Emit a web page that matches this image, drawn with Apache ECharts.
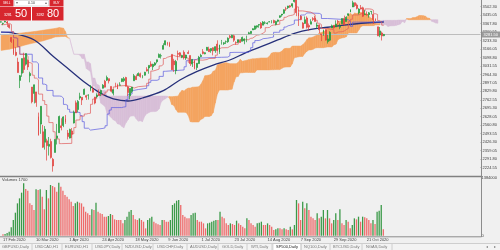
<!DOCTYPE html>
<html><head><meta charset="utf-8">
<script src="https://cdn.jsdelivr.net/npm/echarts@6/dist/echarts.min.js"></script>
<style>html,body{margin:0;padding:0;background:#f0f0f0}#c{width:500px;height:250px}</style>
</head><body><div id="c"></div><script>
// ---- trading days (CFD, incl. some US holiday bars) ----
const monthDays = [
 ['Feb',[17,18,19,20,21,24,25,26,27,28]],
 ['Mar',[2,3,4,5,6,9,10,11,12,13,16,17,18,19,20,23,24,25,26,27,30,31]],
 ['Apr',[1,2,3,6,7,8,9,13,14,15,16,17,20,21,22,23,24,27,28,29,30]],
 ['May',[1,4,5,6,7,8,11,12,13,14,15,18,19,20,21,22,25,26,27,28,29]],
 ['Jun',[1,2,3,4,5,8,9,10,11,12,15,16,17,18,19,22,23,24,25,26,29,30]],
 ['Jul',[1,2,3,6,7,8,9,10,13,14,15,16,17,20,21,22,23,24,27,28,29,30,31]],
 ['Aug',[3,4,5,6,7,10,11,12,13,14,17,18,19,20,21,24,25,26,27,28,31]],
 ['Sep',[1,2,3,4,7,8,9,10,11,14,15,16,17,18,21,22,23,24,25,28,29,30]],
 ['Oct',[1,2,5,6,7,8,9,12,13,14,15,16,19,20,21,22,23,26,27,28,29,30]],
 ['Nov',[2]]
];
const futureSlots = 46;
const tickIdx  = [0,16,32,48,64,80,96,112,128,144,160,176];
const tickText = ['17 Feb 2020','10 Mar 2020','1 Apr 2020','24 Apr 2020','18 May 2020','9 Jun 2020','1 Jul 2020','23 Jul 2020','14 Aug 2020','7 Sep 2020','29 Sep 2020','21 Oct 2020'];

// ---- SP500 daily candles [open, high, low, close] ----
const candles = [
[3380,3386,3376,3382],[3369.0,3375.0,3355.6,3370.3],[3380.4,3393.5,3378.8,3386.2],[3380.4,3389.2,3341.0,3373.2],[3360.5,3360.8,3328.5,3337.8],
[3257.6,3259.8,3214.7,3225.9],[3238.9,3246.9,3118.8,3128.2],[3139.9,3182.5,3108.9,3116.4],[3062.5,3097.1,2977.4,2978.8],[2916.9,2959.7,2855.8,2954.2],
[2974.3,3090.9,2945.2,3090.2],[3096.5,3136.7,2976.6,3003.4],[3045.8,3130.9,3034.4,3130.1],[3075.7,3083.0,2999.8,3023.9],[2954.2,2985.9,2901.5,2972.4],
[2863.9,2863.9,2734.4,2746.6],[2813.5,2882.6,2734.0,2882.2],[2825.6,2825.6,2707.2,2741.4],[2630.9,2660.9,2478.9,2480.6],[2569.9,2711.3,2492.4,2711.0],
[2508.6,2563.0,2380.9,2386.1],[2425.7,2553.9,2367.0,2529.2],[2436.5,2453.6,2280.5,2398.1],[2393.5,2467.0,2319.8,2409.4],[2431.9,2453.0,2295.6,2304.9],
[2290.7,2300.7,2191.9,2237.4],[2344.4,2449.7,2344.4,2447.3],[2457.8,2571.4,2407.5,2475.6],[2501.3,2637.0,2500.7,2630.1],[2555.9,2615.9,2520.0,2541.5],
[2559.0,2631.8,2545.3,2626.7],[2614.7,2641.4,2571.2,2584.6],[2498.1,2522.8,2447.5,2470.5],[2458.5,2533.2,2455.8,2526.9],[2514.9,2538.2,2460.0,2488.7],
[2578.3,2676.9,2574.6,2663.7],[2738.7,2756.9,2657.7,2659.4],[2685.0,2760.8,2663.3,2750.0],[2777.0,2818.6,2762.4,2789.8],[2782.5,2782.5,2721.2,2761.6],
[2805.1,2851.9,2805.1,2846.1],[2795.6,2801.9,2761.5,2783.4],[2799.3,2806.5,2764.3,2799.6],[2842.4,2879.2,2830.9,2874.6],[2845.6,2869.0,2820.4,2823.2],
[2784.8,2785.5,2727.1,2736.6],[2787.9,2815.1,2775.9,2799.3],[2810.4,2844.9,2794.3,2797.8],[2812.6,2842.7,2791.8,2836.7],[2854.7,2887.7,2852.9,2878.5],
[2910.0,2921.2,2860.7,2863.4],[2918.5,2954.9,2912.2,2939.5],[2930.9,2930.9,2892.5,2912.4],[2869.1,2869.1,2821.6,2830.7],[2815.0,2844.2,2797.9,2842.7],
[2868.9,2898.2,2863.6,2868.4],[2883.1,2891.1,2847.7,2848.4],[2878.3,2901.9,2876.5,2881.2],[2908.8,2932.2,2902.9,2929.8],[2915.5,2944.3,2903.4,2930.3],
[2939.5,2945.8,2869.6,2870.1],[2865.9,2874.1,2793.2,2820.0],[2794.5,2852.8,2766.6,2852.5],[2829.9,2865.0,2816.8,2863.7],[2913.9,2968.1,2913.9,2953.9],
[2948.6,2964.2,2922.4,2922.9],[2953.6,2980.3,2953.6,2971.6],[2969.9,2978.5,2938.6,2948.5],[2948.0,2956.8,2933.6,2955.5],[2958,2985,2955,2982],
[3004.1,3021.7,2988.2,2991.8],[3015.7,3036.3,2969.8,3036.1],[3046.6,3068.7,3023.4,3029.7],[3025.2,3049.2,2998.6,3044.3],[3038.8,3062.2,3031.5,3055.7],
[3064.8,3081.1,3051.6,3080.8],[3098.9,3130.9,3098.9,3122.9],[3111.6,3128.9,3090.4,3112.4],[3163.8,3211.7,3163.8,3193.9],[3199.9,3233.1,3196.0,3232.4],
[3213.3,3222.7,3193.1,3207.2],[3213.4,3223.3,3181.5,3190.1],[3123.5,3123.5,2999.5,3002.1],[3071.0,3088.4,2984.5,3041.3],[2993.8,3079.8,2965.7,3066.6],
[3131.0,3153.5,3076.1,3124.7],[3136.1,3141.2,3108.0,3113.5],[3101.6,3120.0,3093.5,3115.3],[3140.3,3155.5,3083.1,3097.7],[3094.4,3120.9,3079.4,3117.9],
[3138.7,3154.9,3127.1,3131.3],[3114.4,3115.0,3032.1,3050.3],[3046.6,3086.3,3024.0,3083.8],[3073.2,3073.7,3004.6,3009.1],[3018.6,3053.9,2999.7,3053.2],
[3050.2,3111.5,3047.8,3100.3],[3105.9,3128.4,3101.0,3115.9],[3143.6,3165.8,3124.5,3130.0],[3128,3140,3124,3137],[3155.3,3182.6,3155.3,3179.7],
[3166.4,3184.2,3142.9,3145.3],[3153.1,3171.8,3136.5,3169.9],[3176.2,3179.8,3115.7,3152.1],[3152.5,3186.8,3136.2,3185.0],[3205.1,3235.3,3149.4,3155.2],
[3141.1,3201.0,3127.7,3197.5],[3226.0,3238.3,3200.8,3226.6],[3208.4,3220.4,3198.6,3215.6],[3224.2,3233.5,3205.7,3224.7],[3224.3,3258.6,3215.2,3251.8],
[3268.5,3277.3,3247.8,3257.3],[3254.9,3279.3,3253.1,3276.0],[3271.6,3280.0,3222.7,3235.7],[3218.6,3227.3,3200.1,3215.6],[3219.8,3241.4,3214.3,3239.4],
[3234.3,3243.7,3216.2,3218.4],[3227.2,3264.7,3227.2,3258.4],[3231.8,3250.9,3204.1,3246.2],[3270.5,3272.2,3220.3,3271.1],[3288.3,3302.7,3284.5,3294.6],
[3289.9,3306.8,3286.4,3306.5],[3317.4,3330.8,3317.4,3327.8],[3323.2,3351.0,3318.1,3349.2],[3340.1,3352.5,3328.7,3351.3],[3356.0,3363.3,3335.4,3360.5],
[3370.3,3381.0,3326.4,3333.7],[3355.5,3387.9,3355.5,3380.4],[3372.9,3387.2,3363.4,3373.4],[3368.7,3378.5,3361.6,3372.9],[3380.9,3387.6,3379.2,3382.0],
[3387.0,3395.1,3370.2,3389.8],[3392.5,3399.5,3369.7,3374.9],[3360.5,3390.8,3354.7,3385.5],[3386.0,3400.0,3379.3,3397.2],[3418.1,3432.1,3413.1,3431.3],
[3436.0,3444.2,3422.8,3443.6],[3450.0,3481.1,3444.2,3478.7],[3485.1,3501.4,3468.4,3484.6],[3494.7,3509.2,3484.3,3508.0],[3509.7,3514.8,3493.3,3500.3],
[3507.4,3528.0,3494.6,3526.7],[3543.8,3588.1,3535.2,3580.8],[3564.7,3564.9,3427.4,3455.1],[3453.6,3479.2,3349.6,3427.0],[3426,3432,3395,3400],
[3371.9,3380.0,3329.3,3331.8],[3369.8,3424.8,3366.8,3399.0],[3412.6,3425.6,3329.3,3339.2],[3352.7,3369.0,3310.5,3341.0],[3363.6,3402.9,3363.6,3383.5],
[3407.7,3419.5,3389.3,3401.2],[3411.2,3428.9,3384.5,3385.5],[3346.9,3375.2,3328.8,3357.0],[3357.4,3362.3,3292.4,3319.5],[3285.6,3285.6,3229.1,3281.1],
[3295.8,3320.3,3271.0,3315.6],[3320.1,3323.4,3232.6,3236.9],[3226.1,3278.7,3209.5,3246.6],[3236.7,3306.9,3228.4,3298.5],[3333.9,3360.7,3332.9,3351.6],
[3350.9,3357.9,3327.5,3335.5],[3341.2,3393.6,3340.5,3363.0],[3385.9,3397.2,3361.4,3380.8],[3338.9,3369.1,3323.7,3348.4],[3367.3,3409.6,3367.3,3408.6],
[3408.7,3431.6,3354.5,3361.0],[3384.6,3426.3,3384.6,3419.4],[3434.3,3447.3,3428.2,3446.8],[3459.7,3482.3,3458.1,3477.1],[3500.0,3549.9,3499.6,3534.2],
[3534.0,3534.0,3500.9,3511.9],[3515.5,3527.9,3480.6,3488.7],[3453.7,3489.1,3440.9,3483.3],[3493.5,3515.8,3480.5,3483.8],[3493.7,3502.4,3419.9,3426.9],
[3439.4,3476.9,3435.7,3443.1],[3439.9,3464.9,3433.1,3435.6],[3438.5,3460.5,3415.3,3453.5],[3464.9,3466.5,3440.5,3465.4],[3441.4,3441.4,3364.9,3401.0],
[3403.2,3409.5,3388.7,3390.7],[3342.5,3342.5,3268.9,3271.0],[3277.2,3341.1,3259.8,3310.1],[3293.6,3304.9,3233.9,3270.0],[3272,3286,3268,3282]
];

// ---- tick volume (thousands) ----
const volumeK = [
32,40,64,96,200,376,552,776,896,1032,1256,1120,1080,776,736,616,1112,1096,1112,936,
632,1096,896,1216,1192,1160,1056,1272,1176,1080,976,936,872,816,712,776,816,792,776,696,
576,536,496,632,616,792,576,536,520,456,456,472,520,496,392,376,376,376,296,376,
456,576,616,496,392,376,416,376,336,176,376,416,456,336,296,272,256,376,376,336,
336,376,736,776,840,856,736,496,456,416,416,496,536,552,376,336,336,296,176,296,
312,336,360,376,376,576,456,416,296,256,296,280,256,360,296,256,216,176,416,376,
296,256,216,296,312,336,256,256,296,256,216,136,152,176,176,152,176,152,136,216,
152,256,856,776,376,816,656,776,616,456,416,376,536,416,456,616,416,616,416,296,
376,536,376,632,296,256,376,336,176,256,416,392,456,336,456,440,416,376,296,376,
280,576,600,736,152
];
const volumeMaxK = 1384;

// ---- 50-period moving average (read points) ----
const maIdx = [0,6,16,25,33,41,48,54,61,68,78,86,94,102,110,117,125,133,141,149,157,166,175,184];
const maVal = [3300,3292,3238,3108,3000,2892,2814,2770,2753,2777,2835,2920,2986,3039,3079,3132,3185,3238,3291,3323,3339,3358,3373,3381];

// ---- Ichimoku: Tenkan-sen / Kijun-sen change points [bar, value] ----
const tenkan = [[0,3360],[2,3370],[4,3361],[5,3304],[6,3256],[7,3251],[8,3185],[9,3124.7],[11,3122.5],[12,3108],[13,3058],[14,3051],[15,2958],[16,2935],[17,2922],[18,2808],[20,2756],[21,2725],[22,2633],[23,2581.5],[25,2508.7],[26,2451.6],[28,2414.5],[29,2416.6],[34,2492.9],[35,2542],[36,2602],[37,2604],[38,2633],[40,2649.7],[41,2653.9],[42,2656],[43,2726.9],[44,2768.5],[45,2771],[46,2800],[48,2803],[49,2807],[50,2824],[51,2841],[54,2865],[55,2874.6],[56,2873],[57,2876],[60,2872],[61,2869.5],[62,2856],[64,2867],[66,2873],[70,2894],[71,2926.5],[72,2991],[73,2995.5],[74,3001],[75,3007],[76,3032],[77,3043],[78,3091],[79,3101],[80,3116],[83,3109],[84,3099],[88,3094.5],[90,3060.6],[93,3080],[94,3077.6],[97,3082.7],[99,3091],[100,3092],[103,3117],[104,3168],[105,3175.5],[106,3177],[109,3187],[110,3196.5],[111,3203.5],[112,3204],[114,3239],[116,3240],[119,3251],[120,3253],[121,3265],[122,3277.5],[123,3278],[124,3283.7],[125,3292.5],[126,3304],[127,3336],[128,3337],[129,3352.6],[130,3356.6],[131,3363],[134,3393.4],[135,3399.5],[136,3418],[137,3428],[138,3432],[139,3435],[140,3441],[141,3483.7],[142,3500.6],[143,3468.9],[145,3458.7],[149,3449],[150,3437.7],[151,3394.9],[152,3371],[153,3360.7],[154,3329],[157,3319.2],[160,3292.4],[161,3301.6],[162,3303.4],[164,3309.6],[165,3320.6],[166,3330],[167,3385.5],[168,3403],[169,3436.8],[172,3452.2],[174,3467.3],[175,3484.9],[177,3482.6],[178,3474.7],[179,3446.4],[180,3440.4],[181,3392.4],[182,3381],[183,3355.4],[184,3350.2]];
const kijun = [[0,3300],[2,3304],[6,3256],[7,3251],[8,3185],[9,3124.7],[15,3064],[16,3063.7],[17,3050],[18,2936],[20,2887],[21,2880],[22,2837],[25,2792.7],[28,2790.5],[29,2776],[30,2726],[31,2719],[32,2687],[33,2664],[37,2661.4],[38,2637.5],[39,2589],[40,2537],[42,2521.9],[43,2535.5],[49,2539.8],[50,2556.5],[51,2649.7],[52,2681],[53,2701],[58,2705.3],[59,2707.4],[60,2764.7],[61,2806.3],[62,2809.1],[63,2838],[64,2844.7],[66,2853.7],[70,2874.4],[71,2901.5],[72,2917.7],[75,2923.9],[76,2948.8],[78,2989.2],[79,2999.9],[88,3025],[89,3073.5],[90,3077.8],[91,3083.4],[94,3094],[95,3099.4],[104,3100.5],[106,3102],[109,3112],[110,3138.5],[111,3139.5],[112,3139.8],[119,3151],[120,3177],[121,3216],[122,3233.4],[123,3234.1],[124,3239.5],[125,3248.4],[126,3251.8],[128,3257.8],[130,3261.4],[131,3299],[133,3300],[134,3316],[135,3322],[136,3340.6],[137,3350.7],[138,3354.6],[139,3359.5],[140,3366],[141,3396],[143,3404],[144,3436.3],[145,3437],[146,3452.8],[147,3453],[148,3449.3],[153,3440.3],[154,3408.6],[157,3398.8],[167,3387.2],[168,3345.9],[169,3379.7],[183,3389.2],[184,3391.9]];

// ---- Ichimoku cloud: Senkou span A / B at bar positions ----
const cloudIdx = [0,4,8,12,16,20,24,26,28,30,31,32,33,34,35,37,38,39,40,41,42,43,44,45,46,47,48,50,51,53,54,55,56,57,58,59,60,61,62,64,65,66,67,68,69,70,72,74,75,76,77,78,79,80,81,82,83,84,85,86,87,88,89,90,91,92,95,96,97,98,100,101,102,103,104,105,108,109,110,111,112,113,114,115,116,117,119,120,121,122,123,125,128,129,130,131,132,134,135,136,137,139,140,141,142,144,145,146,147,148,149,150,151,152,153,154,155,156,157,159,160,161,162,163,164,165,166,167,168,169,170,171,172,173,174,175,176,177,178,179,180,182,183,185,186,187,189,190,191,192,193,194,195,196,197,198,199,200,201,202,203,204,205,206,207,208,209,210];
const senkouA = [3275,3282,3290,3298,3305,3315,3325,3330,3337,3332,3304,3256,3251,3185,3124.7,3123.6,3116,3091,3088,3011,2999,2986,2872,2872,2821.5,2802.5,2735,2709,2650.7,2622,2602.5,2596,2571,2568,2552,2540,2578.5,2603,2633,2635,2611,2593,2595.5,2589,2631,2652,2668,2669,2673,2690,2745,2761,2771,2783,2788,2787,2788.5,2790.6,2791.7,2818,2838,2832.5,2847,2856,2856,2863,2866,2884,2914,2954,2959,2965,2990,2996,3040,3050,3058,3054.5,3049.5,3049.5,3049.5,3049.5,3060,3084,3069,3072,3081.7,3085.8,3088.5,3088.5,3091,3095,3095.7,3108,3134,3138,3139.5,3139.5,3149.5,3167.5,3171.5,3172,3189.4,3190,3190,3190,3201,3215,3240.5,3255,3255.5,3261.6,3270.5,3278,3294,3297.4,3305,3309,3331,3331.5,3354.7,3360.8,3379,3389,3393,3397,3403.5,3440,3448,3436.5,3452.6,3447.8,3455.7,3455.8,3454,3449,3443.5,3422,3410,3400.5,3368.8,3368.8,3359,3359,3345.6,3350,3351,3354,3359.7,3364.4,3386.4,3374.5,3408,3408,3408,3416,3416,3423.5,3432.3,3432.3,3431,3427,3413,3410,3386,3380.4,3372.3,3371];
const senkouB = [3155,3165,3180,3200,3215,3230,3250,3262,3264,3266,3266,3256,3251,3185.5,3124.7,3124.7,3124.7,3124.7,3124.7,3064,3063.7,3050,2936,2936,2887,2880,2837,2837,2792.7,2792.7,2792.7,2792.7,2792.7,2792.7,2792.7,2792.7,2792.7,2792.7,2792.7,2792.7,2792.7,2792.7,2792.7,2792.7,2792.7,2792.7,2792.7,2792.7,2792.7,2792.7,2792.7,2792.7,2792.7,2790.5,2776,2726,2719,2687,2664,2664,2664,2664,2661.4,2637.5,2589,2586,2586,2606.8,2614,2630,2630,2636.5,2661.4,2737.7,2809.6,2840.3,2840.3,2840.3,2844.5,2846.5,2903.9,2945.4,2948.2,2977,2977,2980,2980,2980,2980,2980,2999.9,2999.9,2999.9,2999.9,3001,3001,3002.5,3002.5,3012.6,3022,3023,3023.3,3048.4,3097,3101.2,3106.8,3106.8,3131,3148.3,3158.4,3159,3164.5,3173.4,3176.8,3176.8,3176.8,3176.8,3180.4,3182.6,3182.8,3198.9,3205,3240.4,3250.6,3254.5,3257,3263.9,3293.9,3293.9,3293.9,3293.9,3293.9,3318,3344.6,3351.9,3351.9,3351.9,3351.9,3351.9,3351.9,3357.9,3357.9,3393.4,3394,3394,3394,3394,3394,3396,3396,3396,3396,3404,3398.8,3398.8,3398.8,3398.8,3398.8,3398.8,3398.8,3398.8,3398.8,3398.8,3398.8,3398.8,3398.8,3398.8,3398.8];

const bidPrice = 3281.50, askPrice = 3282.80;
const priceTicks = {min: 2157.30, max: 3555.6, step: 67.25};

// ---- build ----
const categories = [];
monthDays.forEach(([m, ds]) => ds.forEach(d => categories.push(d + ' ' + m + ' 2020')));
for (let k = 1; k <= futureSlots; k++) categories.push('+' + k);

const UP = '#1f9a3a', DN = '#e2403c';
const ORANGE = '#f4a460', THISTLE = '#d8bfd8';

const chart = echarts.init(document.getElementById('c'), null, {renderer: 'canvas'});
const font = 'Liberation Sans, Arial, sans-serif';
const txt = (x, y, s, size, color, align, weight) => ({type: 'text', silent: true, z: 200,
  style: {text: s, x, y, fill: color, font: (weight || 'normal') + ' ' + size + 'px ' + font, align: align || 'left', verticalAlign: 'middle'}});
const rect = (x, y, w, h, fill, stroke, z) => ({type: 'rect', silent: true, z: z || 150, shape: {x, y, width: w, height: h}, style: {fill, stroke: stroke || null, lineWidth: 0.6}});
const line = (x1, y1, x2, y2, color, w, z) => ({type: 'line', silent: true, z: z || 150, shape: {x1, y1, x2, y2}, style: {stroke: color, lineWidth: w}});

const tabs = [['GBPUSD,Daily',2],['USDCAD,H1',35],['EURUSD,H1',65],['USDJPY,Daily',95],['NZDUSD,Daily',125],['USDCHF,Daily',157],['AUDUSD,Daily',190],['GOLD,Daily',222],['WTI,Daily',251],['SP500,Daily',276],['NQ100,Daily',304],['BTCUSD,Daily',333],['NGAS,Daily',366]];
const tabSeps = [32,62,92,122,153,187,218,247,272,301,330,362,392];

const graphics = [
  line(0, 176.5, 481.5, 176.5, '#808080', 1.6),
  line(481.5, 0, 481.5, 237, '#8c8c8c', 1),
  line(0, 236.8, 481.5, 236.8, '#8c8c8c', 1),
  rect(0, 243.5, 500, 7, '#f3f3f3', null, 140),
  line(0, 243.5, 500, 243.5, '#c4c4c4', 0.8),
  rect(273, 243.5, 28, 7, '#ffffff', '#c4c4c4', 141),
  txt(2, 179.5, 'Volumes 1700', 4, '#404040'),
  txt(487, 247, '◂', 4, '#808080', 'center'),
  txt(495, 247, '▸', 4, '#808080', 'center'),
  // one-click trading panel
  rect(0, 0, 63.5, 20.5, '#ffffff', null),
  rect(0, 0, 13.5, 6.5, '#d7262e'),
  txt(6.7, 3.3, 'SELL', 3, '#ffffff', 'center'),
  rect(14.5, 0.5, 34, 5.5, '#ffffff', '#c8c8c8'),
  txt(17, 3.3, '▾', 3.5, '#707070', 'center'),
  txt(31.5, 3.3, '0.10', 3.5, '#303030', 'center'),
  txt(46, 3.3, '▴', 3.5, '#707070', 'center'),
  rect(49.5, 0, 14, 6.5, '#d7262e'),
  txt(56.5, 3.3, 'BUY', 3, '#ffffff', 'center'),
  rect(0, 7, 31, 13.5, '#d7262e'),
  rect(32, 7, 31.5, 13.5, '#d7262e'),
  txt(4, 15.5, String(Math.floor(bidPrice)), 3.5, '#ffffff'),
  txt(15, 14, bidPrice.toFixed(2).slice(-2), 11, '#ffffff', 'left'),
  txt(36.5, 15.5, String(Math.floor(askPrice)), 3.5, '#ffffff'),
  txt(47, 14, askPrice.toFixed(2).slice(-2), 11, '#ffffff', 'left')
];
tabs.forEach(([name, x]) => graphics.push(txt(x, 247, name, 4, name.startsWith('SP500') ? '#202020' : '#777777')));
tabSeps.forEach(x => graphics.push(line(x, 244, x, 250, '#c4c4c4', 0.8)));

const cloudData = cloudIdx.map((j, k) => [j, senkouA[k], senkouB[k]]);

chart.setOption({
  animation: false,
  backgroundColor: '#f0f0f0',
  grid: [
    {left: -4.65, top: 0, width: 485.65, height: 176},
    {left: -4.65, top: 178, width: 485.65, height: 57.7}
  ],
  xAxis: [
    {type: 'category', gridIndex: 0, data: categories, boundaryGap: true, show: false},
    {type: 'category', gridIndex: 1, data: categories, boundaryGap: true,
     axisLine: {show: false}, axisTick: {show: false},
     axisLabel: {fontSize: 4, color: '#404040', margin: 2.5, align: 'left', fontFamily: font,
       interval: (i) => tickIdx.indexOf(i) >= 0,
       formatter: (v, i) => tickText[tickIdx.indexOf(i)] || ''}}
  ],
  yAxis: [
    {type: 'value', gridIndex: 0, position: 'right', min: priceTicks.min, max: priceTicks.max, interval: priceTicks.step,
     axisLine: {show: false}, axisTick: {show: true, length: 1.5, lineStyle: {color: '#707070', width: 0.6}},
     splitLine: {show: false},
     axisLabel: {fontSize: 4, color: '#404040', margin: 2, fontFamily: font, showMinLabel: false, showMaxLabel: false,
       formatter: v => v.toFixed(2)}},
    {type: 'value', gridIndex: 1, position: 'right', min: 0, max: volumeMaxK, interval: volumeMaxK,
     axisLine: {show: false}, axisTick: {show: false}, splitLine: {show: false},
     axisLabel: {fontSize: 4, color: '#404040', margin: 2, fontFamily: font,
       formatter: v => v === 0 ? '0' : String(Math.round(v * 1000))}}
  ],
  series: [
    {type: 'custom', name: 'cloud', xAxisIndex: 0, yAxisIndex: 0, z: 1, clip: true, silent: true,
     data: cloudData, encode: {x: 0, y: [1, 2]},
     renderItem: (params, api) => {
       const k = params.dataIndex;
       if (k >= cloudIdx.length - 1) return null;
       const a0 = api.coord([cloudIdx[k], senkouA[k]]), a1 = api.coord([cloudIdx[k + 1], senkouA[k + 1]]);
       const b0 = api.coord([cloudIdx[k], senkouB[k]]), b1 = api.coord([cloudIdx[k + 1], senkouB[k + 1]]);
       const d0 = senkouA[k] - senkouB[k], d1 = senkouA[k + 1] - senkouB[k + 1];
       const col = d => d >= 0 ? ORANGE : THISTLE;
       const poly = (pts, c) => ({type: 'polygon', shape: {points: pts}, style: {fill: c, stroke: c, lineWidth: 0.5}});
       if (d0 * d1 >= 0) return poly([a0, a1, b1, b0], col(d0 !== 0 ? d0 : d1));
       const t = d0 / (d0 - d1);
       const px = [a0[0] + t * (a1[0] - a0[0]), a0[1] + t * (a1[1] - a0[1])];
       return {type: 'group', children: [poly([a0, px, b0], col(d0)), poly([px, a1, b1], col(d1))]};
     }},
    {type: 'line', name: 'MA50', xAxisIndex: 0, yAxisIndex: 0, z: 3, symbol: 'none', smooth: 0.35, silent: true,
     data: maIdx.map((i, k) => [i, maVal[k]]), lineStyle: {color: '#26307a', width: 1.3}},
    {type: 'line', name: 'Kijun', xAxisIndex: 0, yAxisIndex: 0, z: 4, symbol: 'none', step: 'end', silent: true,
     data: kijun, lineStyle: {color: '#5a5ae0', width: 0.7}},
    {type: 'line', name: 'Tenkan', xAxisIndex: 0, yAxisIndex: 0, z: 4, symbol: 'none', step: 'end', silent: true,
     data: tenkan, lineStyle: {color: '#e05a5a', width: 0.7}},
    {type: 'candlestick', name: 'SP500', xAxisIndex: 0, yAxisIndex: 0, z: 5, barWidth: 1.4, silent: true,
     data: candles.map(c => [c[0], c[3], c[2], c[1]]),
     itemStyle: {color: UP, color0: DN, borderColor: UP, borderColor0: DN, borderWidth: 0.7},
     markLine: {silent: true, symbol: 'none', animation: false,
       lineStyle: {color: '#bdbdbd', width: 1, type: 'solid'},
       label: {show: true, position: 'end', distance: 1, formatter: bidPrice.toFixed(2), fontSize: 4, color: '#ffffff',
         backgroundColor: '#9a9a9a', padding: [1, 2], fontFamily: font},
       data: [{yAxis: bidPrice}]}},
    {type: 'bar', name: 'Volumes', xAxisIndex: 1, yAxisIndex: 1, barWidth: 1.3, silent: true,
     data: volumeK.map((v, i) => ({value: v, itemStyle: {color: (i > 0 && v > volumeK[i - 1]) ? '#3c9a49' : '#ee6a6a'}}))}
  ],
  graphic: graphics
});
</script></body></html>
